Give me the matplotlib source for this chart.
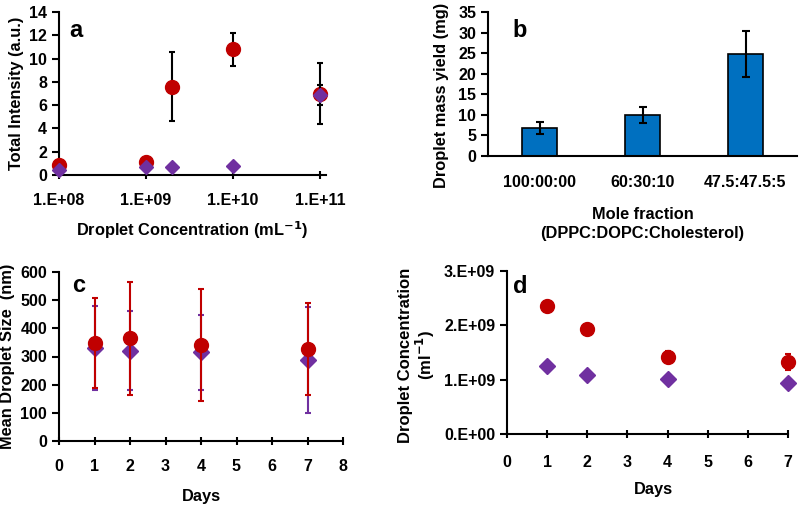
import matplotlib.pyplot as plt
import numpy as np
from matplotlib.ticker import FixedLocator, FuncFormatter

plt.rcParams['font.family'] = ['Liberation Sans', 'DejaVu Sans']
plt.rcParams['font.weight'] = 'bold'
plt.rcParams['font.size'] = 11

RED = '#C00000'
PURPLE = '#7030A0'
BLUE = '#0070C0'

# --- panel a: intensity vs droplet concentration ---
conc_a = [1.0e8, 1.0e9, 2.0e9, 1.0e10, 1.0e11]
int_red = [0.9, 1.1, 7.6, 10.8, 7.0]
int_red_err = [0.0, 0.0, 3.0, 1.4, 2.6]
int_purple = [0.4, 0.7, 0.7, 0.8, 6.9]
int_purple_err = [0.0, 0.0, 0.0, 0.0, 0.85]

# --- panel b: mass yield vs mole fraction ---
fractions = ['100:00:00', '60:30:10', '47.5:47.5:5']
mass_yield = [6.8, 10.0, 24.8]
mass_err = [1.4, 1.9, 5.6]

# --- panel c: droplet size over days ---
days = [1, 2, 4, 7]
size_red = [348, 365, 340, 328]
size_red_err = [160, 200, 198, 163]
size_purple = [330, 320, 315, 288]
size_purple_err = [150, 140, 133, 187]

# --- panel d: droplet concentration over days ---
conc_red = [2.35e9, 1.93e9, 1.42e9, 1.33e9]
conc_red_err = [0.03e9, 0.03e9, 0.10e9, 0.15e9]
conc_purple = [1.26e9, 1.09e9, 1.01e9, 0.93e9]

W, H = 800, 505
fig = plt.figure(figsize=(8, 5.05), dpi=100)


def add_axes(l, r, t, b):
    return fig.add_axes([l / W, 1 - b / H, (r - l) / W, (b - t) / H])


def style(ax):
    for s in ['top', 'right']:
        ax.spines[s].set_visible(False)
    for s in ['left', 'bottom']:
        ax.spines[s].set_linewidth(1.5)
    ax.tick_params(axis='both', width=1.5, length=5, labelsize=11.5)
    ax.tick_params(axis='x', direction='inout', length=6, pad=10)


label_kw = dict(fontsize=11.8, fontweight='bold')
letter_kw = dict(fontsize=17, fontweight='bold', va='baseline', ha='left')

# a
ax = add_axes(59, 326, 12, 175)
ax.set_xscale('log')
ax.errorbar(conc_a, int_red, yerr=int_red_err, fmt='o', color=RED, ms=10,
            ecolor='black', elinewidth=1.5, capsize=2.5, capthick=1.5, zorder=3, clip_on=False)
ax.errorbar(conc_a, int_purple, yerr=int_purple_err, fmt='D', color=PURPLE, ms=7,
            ecolor='black', elinewidth=1.5, capsize=2.5, capthick=1.5, zorder=4, clip_on=False)
ax.set_xlim(1e8, 1.17e11)
ax.set_ylim(0, 14)
ax.set_yticks(np.arange(0, 15, 2))
ax.xaxis.set_major_locator(FixedLocator([1e8, 1e9, 1e10, 1e11]))
ax.xaxis.set_minor_locator(FixedLocator([]))
ax.xaxis.set_major_formatter(FuncFormatter(lambda v, p: '1.E+%02d' % round(np.log10(v))))
ax.set_xlabel('Droplet Concentration (mL$^{\\mathbf{-1}}$)', labelpad=8, **label_kw)
ax.set_ylabel('Total Intensity (a.u.)', labelpad=4, **label_kw)
style(ax)
ax.tick_params(axis='x', pad=10)
ax.text(0.04, 0.847, 'a', transform=ax.transAxes, **letter_kw)

# b
ax = add_axes(488, 797, 12, 156)
xb = np.arange(len(fractions))
ax.bar(xb, mass_yield, width=0.34, color=BLUE, edgecolor='black', linewidth=1.2,
       yerr=mass_err, error_kw=dict(elinewidth=1.5, capsize=3, capthick=1.5, ecolor='black'))
ax.set_xlim(-0.5, 2.5)
ax.set_ylim(0, 35)
ax.set_yticks(np.arange(0, 36, 5))
ax.set_xticks(xb)
ax.set_xticklabels(fractions)
ax.set_xlabel('Mole fraction\n(DPPC:DOPC:Cholesterol)', labelpad=12, linespacing=1.3, **label_kw)
ax.set_ylabel('Droplet mass yield (mg)', **label_kw)
style(ax)
ax.yaxis.set_label_coords(-0.125, 0.42)
ax.tick_params(axis='x', length=0, pad=14)
ax.text(0.08, 0.826, 'b', transform=ax.transAxes, **letter_kw)

# c
ax = add_axes(59, 343, 272, 441)
ax.errorbar(days, size_purple, yerr=size_purple_err, fmt='D', color=PURPLE, ms=8,
            ecolor=PURPLE, elinewidth=1.5, capsize=2.5, capthick=1.5, zorder=3)
ax.errorbar(days, size_red, yerr=size_red_err, fmt='o', color=RED, ms=10,
            ecolor=RED, elinewidth=1.5, capsize=2.5, capthick=1.5, zorder=4)
ax.set_xlim(0, 8)
ax.set_ylim(0, 600)
ax.set_xticks(range(0, 9))
ax.set_yticks(np.arange(0, 601, 100))
ax.set_xlabel('Days', labelpad=11, **label_kw)
ax.set_ylabel('Mean Droplet Size  (nm)', labelpad=4, **label_kw)
style(ax)
ax.tick_params(axis='x', pad=10)
ax.text(0.046, 0.88, 'c', transform=ax.transAxes, **letter_kw)

# d
ax = add_axes(507, 800, 271, 434)
ax.errorbar(days, conc_red, yerr=conc_red_err, fmt='o', color=RED, ms=10,
            ecolor=RED, elinewidth=1.5, capsize=2, capthick=1.5, zorder=3, clip_on=False)
ax.plot(days, conc_purple, 'D', color=PURPLE, ms=8, zorder=4, clip_on=False)
ax.set_xlim(0, 7.3)
ax.set_ylim(0, 3e9)
ax.set_xticks(range(0, 8))
ax.set_yticks([0, 1e9, 2e9, 3e9])
ax.set_yticklabels(['0.E+00', '1.E+09', '2.E+09', '3.E+09'])
ax.set_xlabel('Days', labelpad=9, **label_kw)
ax.set_ylabel('Droplet Concentration\n(ml$^{\\mathbf{-1}}$)', linespacing=1.05,
              fontsize=12, fontweight='bold')
style(ax)
ax.yaxis.set_label_coords(-0.24, 0.485)
ax.spines['bottom'].set_bounds(0, 7)
ax.tick_params(axis='x', pad=12)
ax.text(0.02, 0.865, 'd', transform=ax.transAxes, **letter_kw)

fig.savefig('out.png', dpi=100)
